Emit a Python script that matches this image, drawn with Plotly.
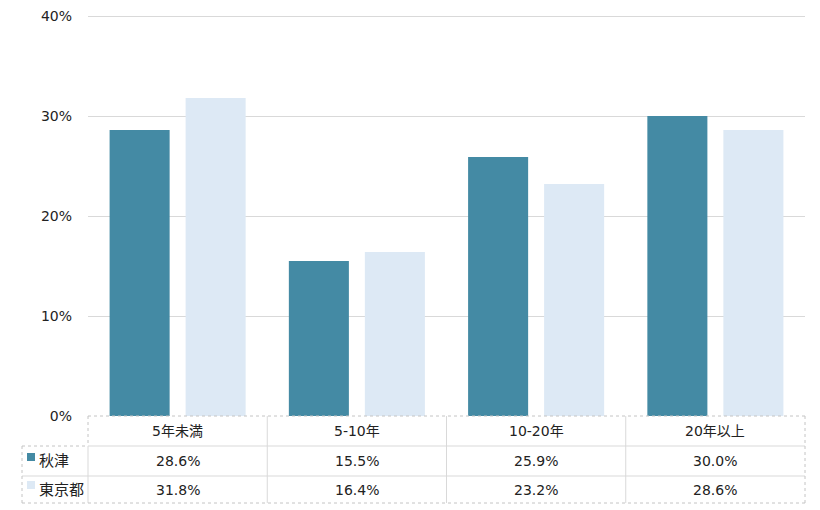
import plotly.graph_objects as go

categories = ["5年未満", "5-10年", "10-20年", "20年以上"]
akitsu = [28.6, 15.5, 25.9, 30.0]
tokyo = [31.8, 16.4, 23.2, 28.6]
series_names = ["秋津", "東京都"]
colors = ["#448AA4", "#DDE9F5"]
yticks = [0, 10, 20, 30, 40]
ytick_labels = ["0%", "10%", "20%", "30%", "40%"]

# page body has an 8px default margin; figure sized to fill the rest of the window
OFF = 8
W, H = 820 - OFF, 510 - OFF
ML, MR, MT, MB = 88 - OFF, 15, 16 - OFF, 94
FONT = "DejaVu Sans, Noto Sans CJK JP"
TXT = "#222222"
LINE = "#D9D9D9"
BORDER = "#C4C4C4"
GRID = "#D9D9D9"
YMAX = 40

fig = go.Figure()
for name, vals, c in zip(series_names, [akitsu, tokyo], colors):
    fig.add_trace(go.Bar(x=list(range(len(categories))), y=vals, name=name,
                         marker=dict(color=c, line=dict(width=0)),
                         hoverinfo="skip"))

plot_h = H - MT - MB
plot_w = W - ML - MR
def py(pix):  # screen pixel y -> paper y
    return (H - MB - (pix - OFF)) / plot_h
def px(pix):  # screen pixel x -> paper x
    return ((pix - OFF) - ML) / plot_w

def hline(x0, x1, y, color, dash="solid"):
    return dict(type="line", xref="paper", yref="paper", x0=px(x0), x1=px(x1),
                y0=py(y), y1=py(y), line=dict(color=color, width=1, dash=dash))
def vline(x, y0, y1, color, dash="solid"):
    return dict(type="line", xref="paper", yref="paper", x0=px(x), x1=px(x),
                y0=py(y0), y1=py(y1), line=dict(color=color, width=1, dash=dash))

n = len(categories)
row_tops = [416, 446, 476, 503]
col_x = [88 + i * (805 - 88) / n for i in range(n + 1)]
shapes = []
# top gridline (plotly drops gridlines at the very edge of the range)
shapes.append(dict(type="line", xref="paper", yref="paper", x0=0, x1=1, y0=py(16.5), y1=py(16.5),
                   line=dict(color=GRID, width=1), layer="below"))
# inner table lines
shapes.append(hline(88, 805, row_tops[1], LINE))
shapes.append(hline(22, 805, row_tops[2], LINE))
for xv in col_x[1:-1]:
    shapes.append(vline(xv, row_tops[0], row_tops[3], LINE))
shapes.append(vline(88, row_tops[1], row_tops[3], LINE))
# outer border (dotted)
shapes.append(hline(88, 805, row_tops[0], BORDER, "dot"))
shapes.append(hline(22, 88, row_tops[1], BORDER, "dot"))
shapes.append(hline(22, 805, row_tops[3], BORDER, "dot"))
shapes.append(vline(22, row_tops[1], row_tops[3], BORDER, "dot"))
shapes.append(vline(88, row_tops[0], row_tops[1], BORDER, "dot"))
shapes.append(vline(805, row_tops[0], row_tops[3], BORDER, "dot"))

annotations = []
for i, cat in enumerate(categories):
    annotations.append(dict(x=i, y=py((row_tops[0] + row_tops[1]) / 2), xref="x", yref="paper",
                            text=cat, showarrow=False, font=dict(size=14, color=TXT),
                            xanchor="center", yanchor="middle"))
sq_tops = [453, 481]
for r, (name, vals, c) in enumerate(zip(series_names, [akitsu, tokyo], colors)):
    pm = (row_tops[r + 1] + row_tops[r + 2]) / 2
    ymid = py(pm)
    for i, v in enumerate(vals):
        annotations.append(dict(x=i, y=ymid, xref="x", yref="paper", text=f"{v:.1f}%",
                                showarrow=False, font=dict(size=14, color=TXT),
                                xanchor="center", yanchor="middle"))
    annotations.append(dict(x=px(37), y=ymid, xref="paper", yref="paper", text=name,
                            showarrow=False, font=dict(size=15, color=TXT),
                            xanchor="left", yanchor="middle"))
    shapes.append(dict(type="rect", xref="paper", yref="paper", x0=px(27), x1=px(35),
                       y0=py(sq_tops[r] + 8), y1=py(sq_tops[r]), fillcolor=c, line=dict(width=0)))

fig.update_layout(
    width=W, height=H,
    margin=dict(l=ML, r=MR, t=MT, b=MB, autoexpand=False),
    paper_bgcolor="white", plot_bgcolor="white",
    font=dict(family=FONT, size=14, color=TXT),
    showlegend=False,
    barmode="group", bargap=0.152, bargroupgap=0.21,
    xaxis=dict(range=[-0.5, n - 0.5], showticklabels=False, showgrid=False,
               zeroline=False, showline=False, fixedrange=True, automargin=False),
    yaxis=dict(range=[0, YMAX], tickvals=yticks, ticktext=ytick_labels,
               showgrid=True, gridcolor=GRID, gridwidth=1, zeroline=False,
               showline=False, ticks="", ticklabelstandoff=15, automargin=False,
               ticklabeloverflow="allow",
               tickfont=dict(size=14, color=TXT), fixedrange=True),
    shapes=shapes, annotations=annotations,
)

fig.write_html("out.html")
